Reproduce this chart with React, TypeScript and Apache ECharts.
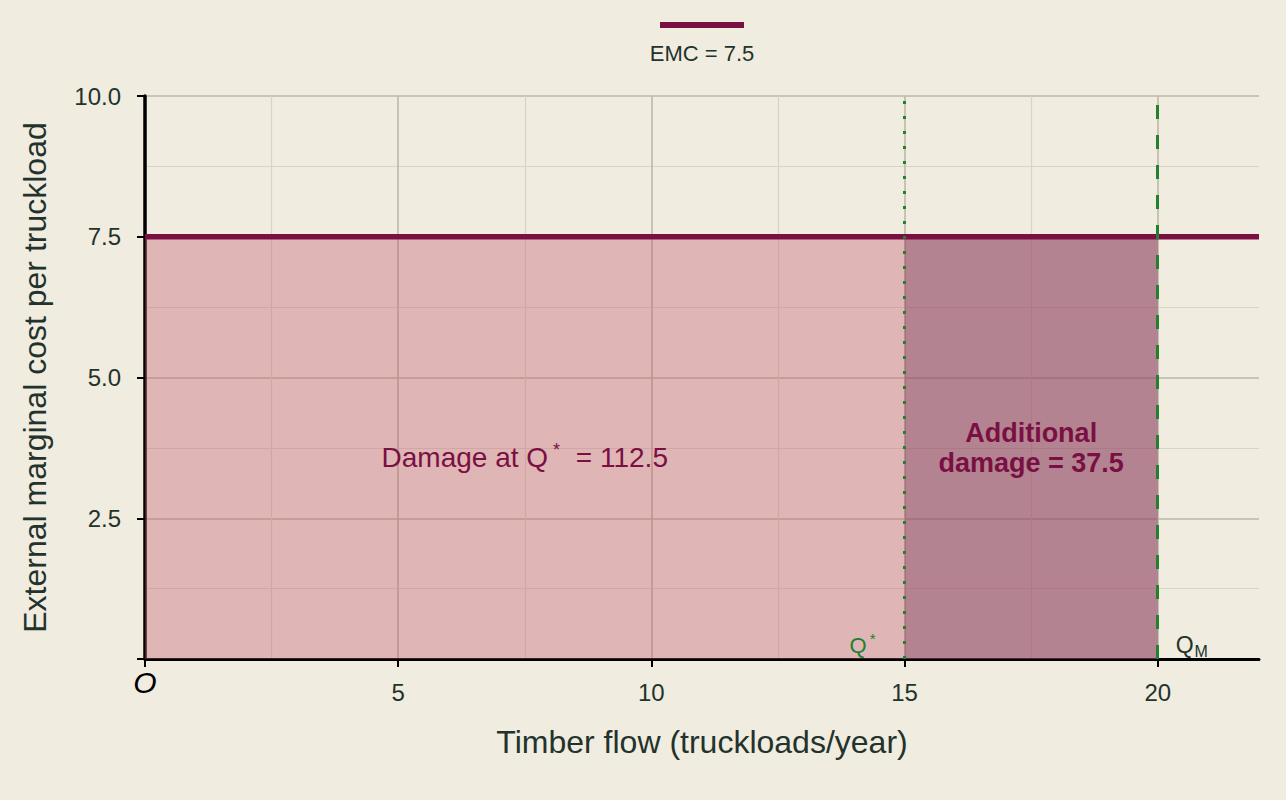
import React, { useEffect, useRef } from "react";
import * as echarts from "echarts";

// values
const X_MAX = 22;
const X_TICKS = [0, 5, 10, 15, 20];
const Y_TICKS = [2.5, 5, 7.5, 10];
const EMC = 7.5;
const Q_STAR = 15;
const Q_MARKET = 20;
const DAMAGE_AT_QSTAR = 112.5;
const ADDITIONAL_DAMAGE = 37.5;
const EMC_LINE: [number, number][] = [
    [0, EMC],
    [X_MAX, EMC],
];

const FONT = "'Liberation Sans', Arial, sans-serif";
const BG = "#f0ece0";
const TEXT = "#23332c";
const WINE = "#7a1042";
const GREEN = "#23802f";

export default function App() {
    const ref = useRef<HTMLDivElement | null>(null);

    useEffect(() => {
        if (!ref.current) return;
        document.body.style.margin = "0";
        document.body.style.background = BG;
        const chart = echarts.init(ref.current, null, { renderer: "svg" });

        const option: any = {
            animation: false,
            backgroundColor: BG,
            textStyle: { fontFamily: FONT, color: TEXT },
            grid: { left: 145, right: 27, top: 96, bottom: 141 },
            legend: { show: false },
            graphic: [
                { type: "rect", left: 660, top: 22, shape: { width: 84, height: 6 }, style: { fill: WINE } },
                {
                    type: "text",
                    x: 702,
                    y: 53,
                    style: {
                        text: "EMC = " + EMC,
                        fontSize: 22,
                        fontFamily: FONT,
                        fill: TEXT,
                        textAlign: "center",
                        textVerticalAlign: "middle",
                    },
                },
            ],
            xAxis: {
                type: "value",
                min: 0,
                max: X_MAX,
                interval: 5,
                name: "Timber flow (truckloads/year)",
                nameLocation: "middle",
                nameGap: 67,
                nameTextStyle: { fontSize: 32, color: TEXT, fontFamily: FONT },
                axisLine: { show: true, onZero: false, lineStyle: { color: "#000", width: 3 } },
                axisTick: { show: true, length: 8, lineStyle: { color: "#000", width: 2 }, customValues: X_TICKS },
                axisLabel: {
                    margin: 21,
                    fontSize: 24,
                    color: TEXT,
                    customValues: X_TICKS,
                    formatter: (v: number) => (v === 0 ? "{o|O}" : String(v)),
                    rich: { o: { fontSize: 30, fontStyle: "italic", color: "#000", lineHeight: 4 } },
                },
                splitLine: { show: true, lineStyle: { color: "#bdb8a9", width: 1.6 } },
                minorTick: { show: false, splitNumber: 2 },
                minorSplitLine: { show: true, lineStyle: { color: "#d9d4c6", width: 1.2 } },
            },
            yAxis: {
                type: "value",
                min: 0,
                max: 10,
                interval: 2.5,
                name: "External marginal cost per truckload",
                nameLocation: "middle",
                nameGap: 94,
                nameTextStyle: { fontSize: 32, color: TEXT, fontFamily: FONT },
                axisLine: { show: true, onZero: false, lineStyle: { color: "#000", width: 3.5 } },
                axisTick: { show: true, length: 8, lineStyle: { color: "#000", width: 2 }, customValues: [0, ...Y_TICKS] },
                axisLabel: {
                    margin: 24,
                    fontSize: 24,
                    color: TEXT,
                    customValues: Y_TICKS,
                    formatter: (v: number) => v.toFixed(1),
                },
                splitLine: { show: true, lineStyle: { color: "#bdb8a9", width: 1.6 } },
                minorTick: { show: false, splitNumber: 2 },
                minorSplitLine: { show: true, lineStyle: { color: "#d9d4c6", width: 1.2 } },
            },
            series: [
                {
                    name: "EMC = " + EMC,
                    type: "line",
                    data: EMC_LINE,
                    symbol: "none",
                    z: 4,
                    lineStyle: { color: WINE, width: 5.5 },
                    markArea: {
                        silent: true,
                        data: [
                            [
                                {
                                    xAxis: 0,
                                    yAxis: 0,
                                    itemStyle: { color: "rgba(191,82,101,0.35)" },
                                    label: {
                                        show: true,
                                        position: "inside",
                                        offset: [0, 10],
                                        formatter: "Damage at Q{sup|*} = " + DAMAGE_AT_QSTAR,
                                        fontSize: 28,
                                        color: WINE,
                                        rich: { sup: { fontSize: 18, color: WINE, padding: [0, 8, 16, 5] } },
                                    },
                                },
                                { xAxis: Q_STAR, yAxis: EMC },
                            ],
                            [
                                {
                                    xAxis: Q_STAR,
                                    yAxis: 0,
                                    itemStyle: { color: "rgba(140,61,92,0.6)" },
                                    label: {
                                        show: true,
                                        position: "inside",
                                        formatter: "Additional\ndamage = " + ADDITIONAL_DAMAGE,
                                        fontSize: 27,
                                        fontWeight: "bold",
                                        lineHeight: 30,
                                        color: WINE,
                                    },
                                },
                                { xAxis: Q_MARKET, yAxis: EMC },
                            ],
                        ],
                    },
                },
                {
                    name: "Quantities",
                    type: "scatter",
                    symbolSize: 0,
                    z: 6,
                    itemStyle: { opacity: 1 },
                    data: [
                        {
                            value: [Q_STAR, 0],
                            label: {
                                show: true,
                                position: "left",
                                distance: 29,
                                offset: [0, -14],
                                formatter: "Q{sup|*}",
                                fontSize: 22,
                                color: GREEN,
                                rich: { sup: { fontSize: 15, color: GREEN, padding: [0, 0, 14, 3] } },
                            },
                        },
                        {
                            value: [Q_MARKET, 0],
                            label: {
                                show: true,
                                position: "right",
                                distance: 18,
                                offset: [0, -14],
                                formatter: "Q{sub|M}",
                                fontSize: 23,
                                color: TEXT,
                                rich: { sub: { fontSize: 16, color: TEXT, padding: [12, 0, 0, 1] } },
                            },
                        },
                    ],
                    markLine: {
                        silent: true,
                        symbol: "none",
                        label: { show: false },
                        data: [
                            { xAxis: Q_STAR, lineStyle: { color: GREEN, width: 3, type: [3, 12] } },
                            { xAxis: Q_MARKET, lineStyle: { color: GREEN, width: 3, type: [14, 16] } },
                        ],
                    },
                },
            ],
        };

        chart.setOption(option);
        return () => chart.dispose();
    }, []);

    return <div ref={ref} style={{ position: "fixed", left: 0, top: 0, width: 1286, height: 800 }} />;
}
